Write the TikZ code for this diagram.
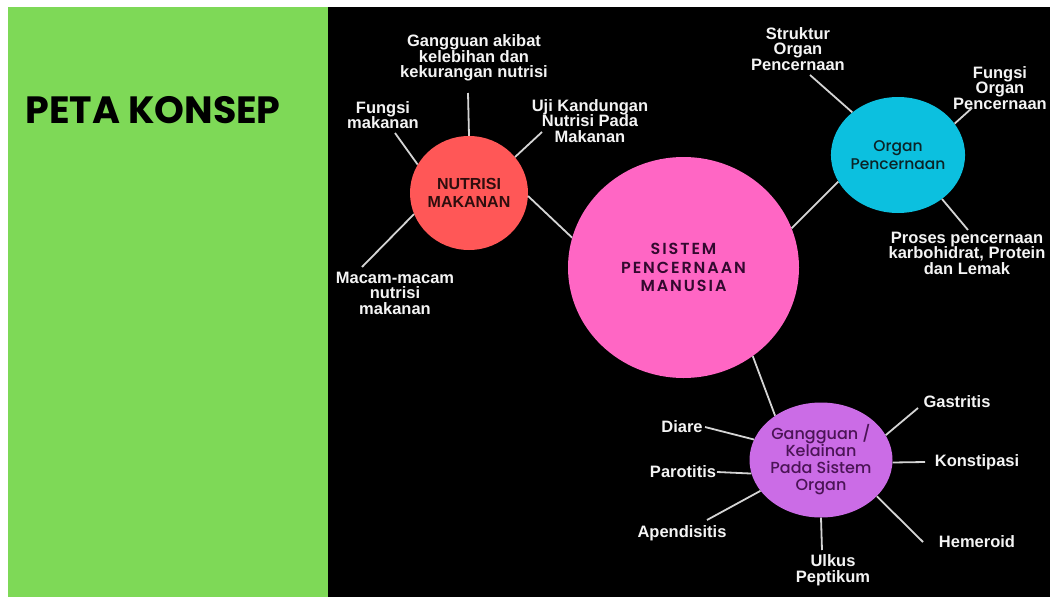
\documentclass[tikz,border=0pt]{standalone}
\usepackage{fontspec}
\setmainfont{Liberation Sans}
\newfontfamily\popbold{Poppins Bold}
\newfontfamily\popsemiLS{Poppins SemiBold}[LetterSpace=12]
\newfontfamily\popmed{Poppins Medium}
\usetikzlibrary{shapes.geometric}
\definecolor{bggreen}{HTML}{7ED957}
\definecolor{mainpink}{HTML}{FF66C4}
\definecolor{nutred}{HTML}{FF5757}
\definecolor{orgcyan}{HTML}{0CC0DF}
\definecolor{gangpurple}{HTML}{CB6CE6}
\definecolor{linegrey}{HTML}{D4D4D4}
\definecolor{labelwhite}{HTML}{F4F4F4}
\definecolor{maintext}{HTML}{33092F}
\definecolor{nuttext}{HTML}{2E0E0E}
\definecolor{orgtext}{HTML}{0B2326}
\definecolor{gangtext}{HTML}{4B1456}
\tikzset{
  lbl/.style={text=labelwhite, font=\bfseries\fontsize{16.5}{15.5}\selectfont, align=center, inner sep=0pt},
  conn/.style={draw=linegrey, line width=1.8pt},
  bubble/.style={ellipse, inner sep=0pt, draw=none, align=center},
}
\begin{document}
\begin{tikzpicture}[x=1pt, y=-1pt]
\useasboundingbox (0,0) rectangle (1050,597);
\clip (0,0) rectangle (1050,597);
\fill[white] (0,0) rectangle (1050,597);
\fill[bggreen] (8,7) rectangle (328,597);
\fill[black] (328,7) rectangle (1050,597);

\node[text=black, font=\popbold\fontsize{38}{42}\selectfont, inner sep=0pt] (title) at (153,110) {PETA KONSEP};

% bubbles
\node[bubble, fill=mainpink, minimum width=231pt, minimum height=221pt,
      text=maintext, font=\popsemiLS\fontsize{16}{18.5}\selectfont] (main) at (683.5,267.5) {SISTEM\\PENCERNAAN\\MANUSIA};
\node[bubble, fill=nutred, minimum width=118pt, minimum height=114pt,
      text=nuttext, font=\bfseries\fontsize{16}{18}\selectfont] (nut) at (469,193) {NUTRISI\\MAKANAN};
\node[bubble, fill=orgcyan, minimum width=120pt, minimum height=116pt,
      text=orgtext, font=\popmed\fontsize{15.5}{18}\selectfont] (org) at (898,155) {Organ\\Pencernaan};
\node[bubble, fill=gangpurple, minimum width=118pt, minimum height=115pt,
      text=gangtext, font=\popmed\fontsize{16}{17}\selectfont] (gang) at (821,460) {Gangguan /\\Kelainan\\Pada Sistem\\Organ};

% labels
\node[lbl] (lg) at (474,58) {Gangguan akibat\\kelebihan dan\\kekurangan nutrisi};
\node[lbl] (lf) at (383,115) {Fungsi\\makanan};
\node[lbl] (lu) at (590,121) {Uji Kandungan\\Nutrisi Pada\\Makanan};
\node[lbl] (lm) at (395,293) {Macam-macam\\nutrisi\\makanan};
\node[lbl] (ls) at (798,49) {Struktur\\Organ\\Pencernaan};
\node[lbl] (lfo) at (1000,88) {Fungsi\\Organ\\Pencernaan};
\node[lbl] (lp) at (967,253) {Proses pencernaan\\karbohidrat, Protein\\dan Lemak};
\node[lbl] (ld) at (682,427) {Diare};
\node[lbl] (lpa) at (683,472) {Parotitis};
\node[lbl] (la) at (682,533) {Apendisitis};
\node[lbl] (luk) at (833,570) {Ulkus\\Peptikum};
\node[lbl] (lh) at (977,542) {Hemeroid};
\node[lbl] (lk) at (977,462) {Konstipasi};
\node[lbl] (lga) at (957,402) {Gastritis};

% free ends of connectors
\coordinate (eg) at (468,93);
\coordinate (ef) at (395,133);
\coordinate (eu) at (542,132);
\coordinate (em) at (362,267);
\coordinate (es) at (810,75);
\coordinate (efo) at (972,108);
\coordinate (ep) at (968,230);
\coordinate (ed) at (705,427);
\coordinate (epa) at (717,472);
\coordinate (ea) at (707,520);
\coordinate (euk) at (822,550);
\coordinate (eh) at (923,542);
\coordinate (ek) at (925,462);
\coordinate (ega) at (918,408);

% connectors between bubbles
\draw[conn] (nut.-3) -- (main.165);
\draw[conn] (main.20) -- (org.204);
\draw[conn] (main.-52) -- (gang.136);

% connectors to labels
\draw[conn] (nut.90) -- (eg);
\draw[conn] (nut.151) -- (ef);
\draw[conn] (nut.38) -- (eu);
\draw[conn] (nut.201) -- (em);
\draw[conn] (org.137) -- (es);
\draw[conn] (org.29) -- (efo);
\draw[conn] (org.-45) -- (ep);
\draw[conn] (gang.163) -- (ed);
\draw[conn] (gang.191.5) -- (epa);
\draw[conn] (gang.207) -- (ea);
\draw[conn] (gang.-90) -- (euk);
\draw[conn] (gang.-33) -- (eh);
\draw[conn] (gang.-2) -- (ek);
\draw[conn] (gang.21) -- (ega);
\end{tikzpicture}
\end{document}
